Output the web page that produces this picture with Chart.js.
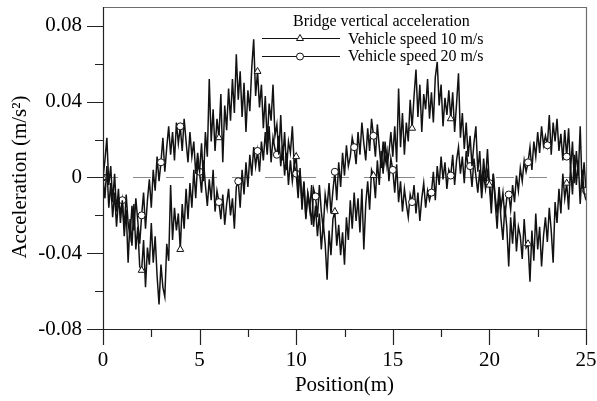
<!DOCTYPE html>
<html>
<head>
<meta charset="utf-8">
<script src="https://cdn.jsdelivr.net/npm/chart.js@4.4.1/dist/chart.umd.min.js"></script>
<style>
  body { margin: 0; background: #fff; }
  #wrap { width: 597px; height: 401px; }
</style>
</head>
<body>
<div id="wrap"><canvas id="accChart"></canvas></div>
<script>
// bridge vertical acceleration, one value per 0.1 m
const speed10 = [
  0.000, 0.009, 0.021, -0.004, 0.006, -0.013, 0.002, -0.018, -0.006, -0.024,
  -0.012, -0.031, -0.017, -0.045, -0.022, -0.036, -0.014, -0.038, -0.026, -0.047,
  -0.049, -0.033, -0.058, -0.037, -0.046, -0.024, -0.045, -0.031, -0.052, -0.067,
  -0.046, -0.058, -0.063, -0.035, -0.044, -0.004, -0.033, -0.016, -0.028, -0.019,
  -0.038, -0.014, -0.027, -0.006, -0.022, -0.003, -0.016, 0.004, -0.011, 0.008,
  0.003, 0.018, -0.002, 0.024, 0.011, 0.052, 0.019, 0.036, 0.014, 0.031,
  0.021, 0.044, 0.008, 0.038, 0.025, 0.047, 0.030, 0.052, 0.034, 0.065,
  0.041, 0.056, 0.032, 0.050, 0.024, 0.046, 0.035, 0.058, 0.073, 0.043,
  0.056, 0.037, 0.049, 0.026, 0.043, 0.018, 0.039, 0.030, 0.049, 0.022,
  0.028, 0.012, 0.033, 0.009, 0.024, 0.004, 0.019, 0.013, 0.027, 0.006,
  0.011, -0.006, 0.003, -0.014, -0.002, -0.021, -0.009, -0.017, -0.004, -0.026,
  -0.015, -0.031, -0.019, -0.038, -0.024, -0.035, -0.054, -0.028, -0.041, -0.022,
  -0.018, -0.036, -0.025, -0.041, -0.029, -0.046, -0.021, -0.033, -0.012, -0.027,
  -0.008, -0.023, -0.011, -0.029, -0.006, -0.038, -0.014, -0.002, -0.017, 0.004,
  0.001, -0.011, 0.009, -0.004, 0.014, 0.002, 0.019, 0.006, 0.013, 0.024,
  0.011, 0.027, 0.008, 0.047, 0.016, 0.034, 0.012, 0.029, 0.019, 0.041,
  0.026, 0.043, 0.057, 0.032, 0.049, 0.024, 0.044, 0.036, 0.052, 0.031,
  0.045, 0.029, 0.053, 0.061, 0.038, 0.049, 0.027, 0.042, 0.033, 0.046,
  0.031, 0.045, 0.024, 0.039, 0.055, 0.021, 0.034, 0.015, 0.029, 0.011,
  0.022, 0.006, 0.018, 0.027, 0.003, 0.014, -0.006, 0.010, -0.002, 0.015,
  -0.004, -0.019, 0.002, -0.013, -0.027, -0.008, -0.022, -0.033, -0.015, -0.026,
  -0.047, -0.021, -0.035, -0.018, -0.039, -0.026, -0.031, -0.043, -0.022, -0.037,
  -0.035, -0.055, -0.028, -0.044, -0.019, -0.038, -0.026, -0.047, -0.031, -0.021,
  -0.034, -0.016, -0.028, -0.045, -0.013, -0.024, -0.006, -0.019, 0.002, -0.011,
  -0.003, -0.017, 0.006, -0.009, 0.012, -0.004, 0.009, -0.014, 0.004, -0.008,
  -0.012
];

const speed20 = [
  0.000, -0.011, 0.006, -0.016, -0.003, -0.021, -0.008, -0.026, -0.012, -0.019,
  -0.012, -0.027, -0.009, -0.024, -0.031, -0.015, -0.028, -0.011, -0.023, -0.035,
  -0.020, -0.008, -0.027, -0.012, -0.001, -0.016, 0.004, -0.007, 0.011, -0.002,
  0.008, 0.021, 0.003, 0.016, 0.027, 0.012, 0.024, 0.009, 0.029, 0.018,
  0.027, 0.014, 0.031, 0.019, 0.008, 0.024, 0.011, 0.019, 0.002, 0.013,
  0.003, -0.008, 0.009, -0.004, -0.015, -0.001, -0.012, 0.004, -0.018, -0.007,
  -0.013, -0.022, -0.009, -0.025, -0.014, -0.006, -0.020, -0.011, -0.027, -0.005,
  -0.002, -0.016, 0.004, -0.009, 0.008, -0.005, 0.012, 0.001, 0.016, 0.006,
  0.014, 0.003, 0.019, 0.009, 0.024, 0.012, 0.027, 0.008, 0.021, 0.015,
  0.012, 0.022, 0.006, 0.017, 0.001, 0.013, -0.004, 0.009, -0.002, 0.007,
  0.002, -0.011, 0.005, -0.017, -0.003, -0.022, -0.008, -0.014, -0.025, -0.006,
  -0.010, -0.021, -0.004, -0.018, -0.027, -0.009, -0.016, -0.003, -0.019, -0.007,
  0.003, -0.012, 0.008, -0.005, 0.013, 0.001, 0.017, 0.006, 0.011, 0.021,
  0.016, 0.007, 0.024, 0.012, 0.029, 0.018, 0.009, 0.026, 0.014, 0.031,
  0.022, 0.011, 0.028, 0.016, 0.005, 0.019, 0.008, 0.014, -0.002, 0.010,
  0.004, -0.008, 0.007, -0.013, -0.002, -0.018, -0.006, -0.014, -0.021, -0.009,
  -0.013, -0.004, -0.019, -0.008, -0.023, -0.011, -0.003, -0.016, -0.007, -0.012,
  -0.008, 0.003, -0.012, 0.006, -0.004, 0.011, -0.001, 0.008, -0.006, 0.004,
  0.001, 0.012, -0.004, 0.009, 0.016, 0.002, 0.011, -0.003, 0.014, 0.005,
  0.006, -0.005, 0.010, 0.001, -0.008, 0.004, -0.011, 0.002, -0.006, 0.003,
  -0.003, -0.014, 0.002, -0.010, -0.019, -0.005, -0.016, -0.008, -0.021, -0.011,
  -0.009, -0.017, -0.004, -0.013, 0.001, -0.007, 0.005, -0.002, 0.009, 0.003,
  0.008, 0.016, 0.004, 0.019, 0.011, 0.024, 0.013, 0.027, 0.017, 0.022,
  0.017, 0.033, 0.012, 0.029, 0.019, 0.031, 0.014, 0.023, 0.009, 0.025,
  0.011, 0.026, 0.004, 0.019, -0.003, 0.014, 0.001, 0.027, -0.006, 0.008,
  -0.007
];

// positions along the bridge (m), sampled every 0.1 m
const positions = speed10.map((v, i) => i / 10);

const xMajorTicks = [0, 5, 10, 15, 20, 25];
const xMinorTicks = [2.5, 7.5, 12.5, 17.5, 22.5];
const yMajorTicks = [-0.08, -0.04, 0, 0.04, 0.08];
const yMinorTicks = [-0.06, -0.02, 0.02, 0.06];

const legendTitle = "Bridge vertical acceleration";
const seriesNames = ["Vehicle speed 10 m/s", "Vehicle speed 20 m/s"];
const yTitle = "Acceleration (m/s²)";

const serif = "'Liberation Serif', 'Times New Roman', serif";

// dashed zero line, box and outward ticks (major long, minor short)
const frameTicks = {
  id: "frameTicks",
  beforeDatasetsDraw(chart) {
    const { ctx, chartArea: a, scales: { y } } = chart;
    const y0 = Math.round(y.getPixelForValue(0)) + 0.5;
    ctx.save();
    ctx.strokeStyle = "#8a8a8a";
    ctx.lineWidth = 1;
    ctx.setLineDash([18, 15]);
    ctx.lineDashOffset = 3;
    ctx.beginPath();
    ctx.moveTo(a.left, y0);
    ctx.lineTo(a.right, y0);
    ctx.stroke();
    ctx.restore();
  },
  afterDraw(chart) {
    const { ctx, chartArea: a, scales: { x, y } } = chart;
    ctx.save();
    ctx.lineWidth = 1.2;
    ctx.strokeStyle = "#6e6e6e";
    ctx.beginPath();
    ctx.moveTo(a.left, a.top + 0.5);
    ctx.lineTo(a.right + 0.5, a.top + 0.5);
    ctx.lineTo(a.right + 0.5, a.bottom);
    ctx.stroke();

    ctx.strokeStyle = "#222";
    ctx.beginPath();
    ctx.moveTo(a.left + 0.5, a.top);
    ctx.lineTo(a.left + 0.5, a.bottom + 0.5);
    ctx.lineTo(a.right + 0.5, a.bottom + 0.5);
    yMajorTicks.forEach(v => {
      const py = Math.round(y.getPixelForValue(v)) + 0.5;
      ctx.moveTo(a.left - 16, py);
      ctx.lineTo(a.left, py);
    });
    yMinorTicks.forEach(v => {
      const py = Math.round(y.getPixelForValue(v)) + 0.5;
      ctx.moveTo(a.left - 8, py);
      ctx.lineTo(a.left, py);
    });
    xMajorTicks.forEach(v => {
      const px = Math.round(x.getPixelForValue(v)) + 0.5;
      ctx.moveTo(px, a.bottom);
      ctx.lineTo(px, a.bottom + 16);
    });
    xMinorTicks.forEach(v => {
      const px = Math.round(x.getPixelForValue(v)) + 0.5;
      ctx.moveTo(px, a.bottom);
      ctx.lineTo(px, a.bottom + 8);
    });
    ctx.stroke();

    // y axis title, sits a little below the middle of the axis in the original
    ctx.save();
    ctx.translate(20, 177);
    ctx.rotate(-Math.PI / 2);
    ctx.fillStyle = "#000";
    ctx.font = "21px " + serif;
    ctx.textAlign = "center";
    ctx.textBaseline = "middle";
    ctx.fillText(yTitle, 0, 0);
    ctx.restore();

    // legend
    ctx.fillStyle = "#000";
    ctx.font = "16px " + serif;
    ctx.textBaseline = "alphabetic";
    ctx.fillText(legendTitle, 293, 26);
    const rows = [
      { y: 38.5, style: "triangle", r: 4, label: seriesNames[0], base: 44 },
      { y: 56.5, style: "circle", r: 3.5, label: seriesNames[1], base: 61 },
    ];
    rows.forEach(row => {
      ctx.strokeStyle = "#111";
      ctx.lineWidth = 1;
      ctx.beginPath();
      ctx.moveTo(262, row.y);
      ctx.lineTo(340, row.y);
      ctx.stroke();
      ctx.fillStyle = "#fff";
      ctx.strokeStyle = "#111";
      Chart.helpers.drawPoint(ctx, { pointStyle: row.style, radius: row.r, rotation: 0, borderWidth: 1 }, 300, row.y);
      ctx.fillStyle = "#000";
      ctx.fillText(row.label, 348, row.base);
    });
    ctx.restore();
  },
};

renderAccelerationChart();

function renderAccelerationChart() {
  let canvas = document.querySelector("#accChart");
  let accChart = new Chart(canvas, {
    type: "line",
    data: {
      labels: positions,
      datasets: [
        {
          label: seriesNames[0],
          data: positions.map((p, i) => ({ x: p, y: speed10[i] })),
          borderColor: "#121212",
          borderWidth: 1.5,
          pointStyle: "triangle",
          pointRadius: c => (c.dataIndex % 20 === 0 ? 4 : 0),
          pointBackgroundColor: "#fff",
          pointBorderColor: "#121212",
          pointBorderWidth: 1,
          tension: 0,
        },
        {
          label: seriesNames[1],
          data: positions.map((p, i) => ({ x: p, y: speed20[i] })),
          borderColor: "#121212",
          borderWidth: 1.5,
          pointStyle: "circle",
          pointRadius: c => (c.dataIndex % 10 === 0 ? 3.5 : 0),
          pointBackgroundColor: "#fff",
          pointBorderColor: "#121212",
          pointBorderWidth: 1,
          tension: 0,
        },
      ],
    },
    options: {
      responsive: true,
      maintainAspectRatio: false,
      animation: false,
      events: [],
      layout: { padding: { top: 7, right: 11, left: 0, bottom: 0 } },
      plugins: { legend: { display: false }, tooltip: { enabled: false } },
      scales: {
        x: {
          type: "linear",
          min: 0,
          max: 25,
          afterBuildTicks: s => { s.ticks = xMajorTicks.map(v => ({ value: v })); },
          afterFit: s => {
            s.height = 72;
            s.paddingLeft = 0;
            s.paddingRight = 0;
          },
          grid: { display: false, drawTicks: false },
          border: { display: false },
          ticks: {
            padding: 19,
            color: "#000",
            font: { family: serif, size: 21 },
            maxRotation: 0,
          },
          title: {
            display: true,
            text: "Position(m)",
            color: "#000",
            font: { family: serif, size: 21 },
            padding: { top: 0, bottom: 3 },
          },
        },
        y: {
          min: -0.08,
          max: 0.09,
          afterBuildTicks: s => { s.ticks = yMajorTicks.map(v => ({ value: v })); },
          afterFit: s => {
            s.width = 103;
            s.paddingTop = 0;
            s.paddingBottom = 0;
          },
          grid: { display: false, drawTicks: false },
          border: { display: false },
          ticks: {
            padding: 21,
            color: "#000",
            font: { family: serif, size: 21 },
            callback: v => (Math.abs(v) < 1e-9 ? "0" : v.toFixed(2)),
          },
          title: { display: false },
        },
      },
    },
    plugins: [frameTicks],
  });
}
</script>
</body>
</html>
